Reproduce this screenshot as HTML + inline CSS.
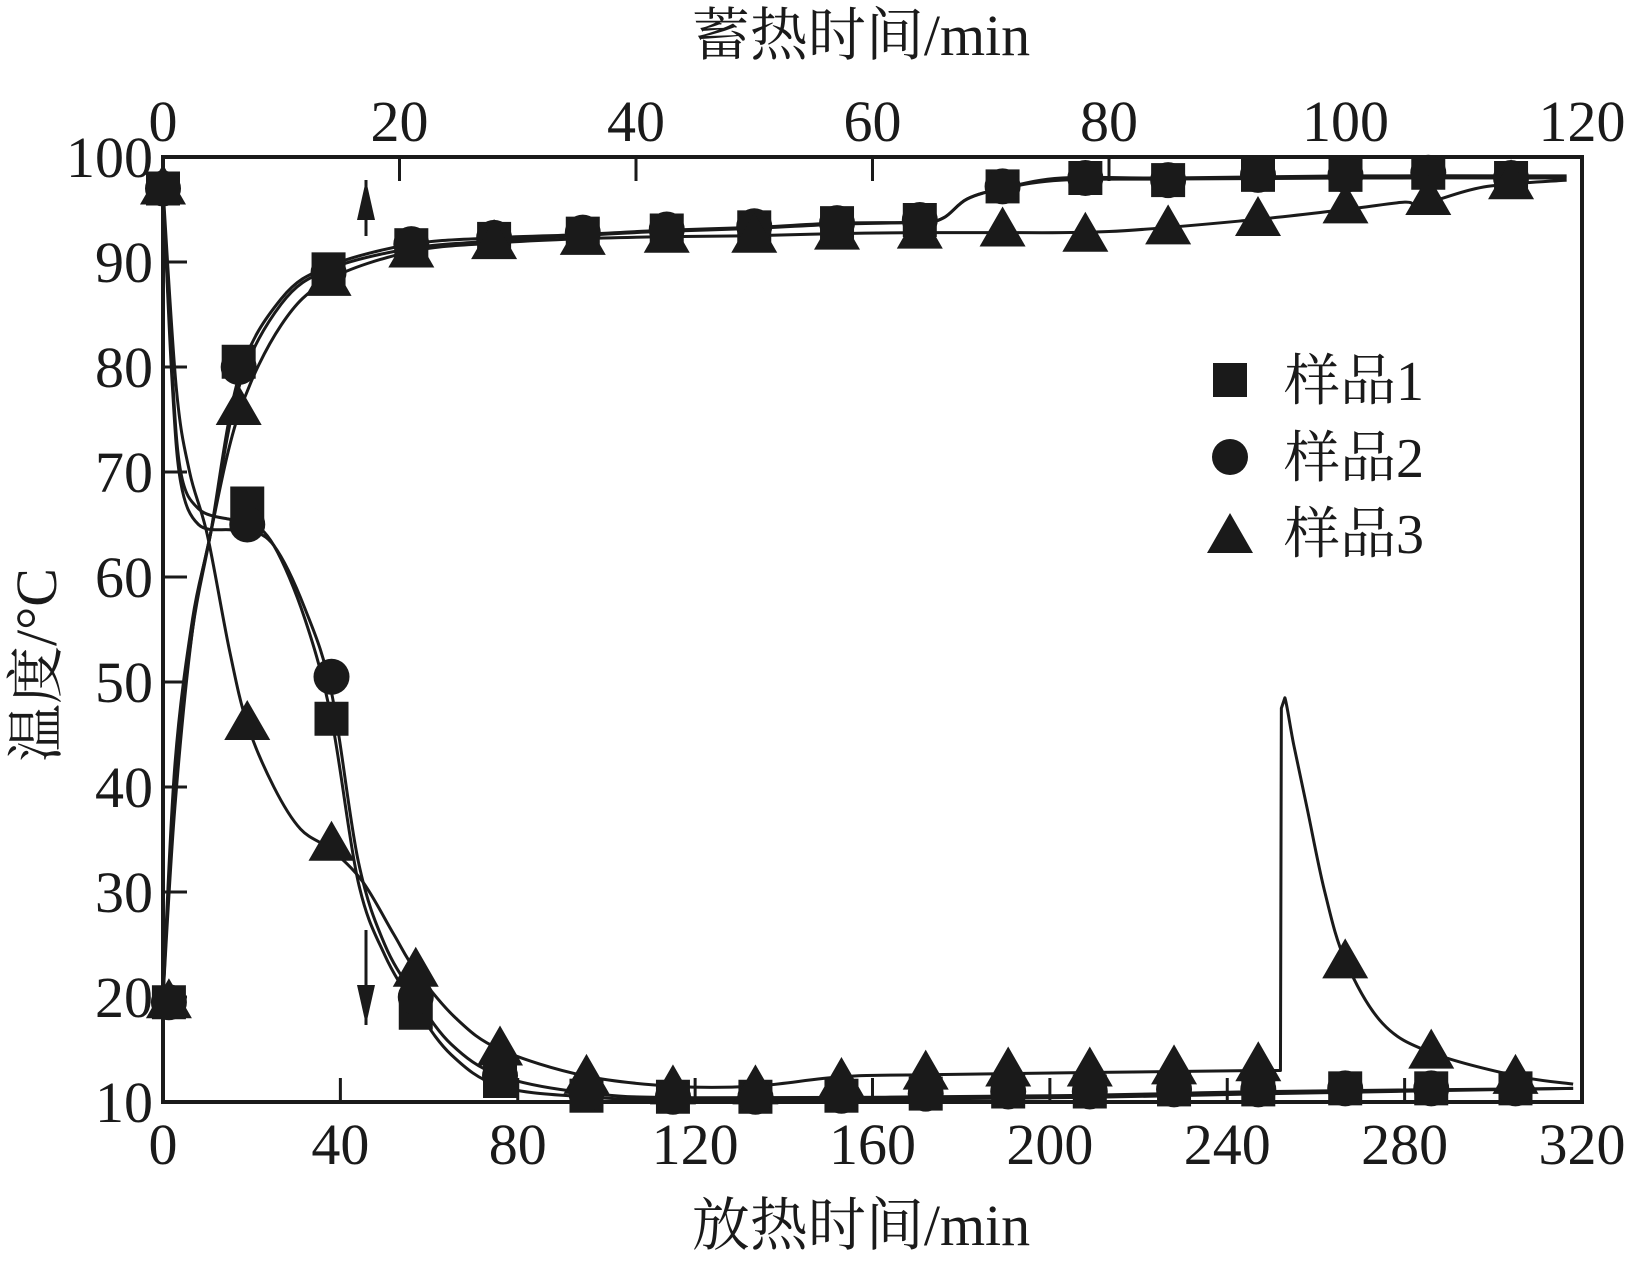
<!DOCTYPE html>
<html><head><meta charset="utf-8"><style>
body{margin:0;background:#fff}
svg text{font-family:"Liberation Serif","Noto Serif CJK SC",serif;fill:#1a1a1a}
</style></head><body>
<svg id="chart" width="1628" height="1261" viewBox="0 0 1628 1261" xmlns="http://www.w3.org/2000/svg"></svg>
<script>
// ---- data ----
const yTicks=[10,20,30,40,50,60,70,80,90,100];
const xBottomTicks=[0,40,80,120,160,200,240,280,320];
const xTopTicks=[0,20,40,60,80,100,120];
// charging (top axis, min)
const chargeT=[0.5,6.4,14,21,28,35.5,42.6,50,57,64,71,78,85,92.6,100,107,114];
const charge1=[19.5,80.5,89.3,91.6,92.2,92.7,93,93.3,93.7,94,97.2,98,97.8,98.3,98.3,98.5,98];
const charge2=[19.5,80,89,91.7,92.3,92.8,93.1,93.4,93.7,94,97.2,98,97.8,98.3,98.3,98.5,98];
const charge3=[19.5,76,88.3,91,91.8,92.2,92.4,92.4,92.7,92.8,93,92.5,93.2,94,95.2,96,97.5];
// discharging (bottom axis, min)
const dischT=[0,19,38,57,76,95.5,115,133.6,153,172,190.6,209,228,247,266.6,286,305];
const disch1=[97,67,46.5,18.5,12,10.6,10.5,10.5,10.6,10.8,11,11,11.2,11.2,11.3,11.3,11.3];
const disch2=[97,65,50.5,20,12.5,10.8,10.5,10.5,10.6,10.8,11,11,11.2,11.2,11.3,11.3,11.3];
const disch3=[97,46,34.5,22.5,15,12.3,11.3,11.3,12,12.7,13,13,13.2,13.5,23.3,14.7,12.3];
// fitted curves
const cCurve1T=[0,1,2.5,4,6.4,10,14,21,28,35,42,50,57,64,66,68,71,76,85,100,118.7];
const cCurve1V=[20,40,55,64,79,86.5,89.6,91.7,92.3,92.6,93,93.3,93.7,93.8,94.2,96,97,98,98,98.2,98.2];
const cCurve2T=[0,1,2.5,4,6.4,10,14,21,28,35,42,50,57,64,66,68,71,76,85,100,118.7];
const cCurve2V=[20,42,56,64,78,86,89.3,91.3,92,92.5,92.9,93.2,93.6,93.8,94.2,96,97,97.8,97.9,98,98];
const cCurve3T=[0,1,2.5,4,6.4,10,14,21,28,35,42,50,57,64,70,80,92,100,105,106,108,112,118.7];
const cCurve3V=[20,38,55,64,75.5,84,88.3,91,91.8,92.2,92.4,92.5,92.7,92.8,92.8,92.9,94,95,95.7,95.3,96,97.2,97.8];
const dCurve1T=[0,2,4,8,15,19,25,32,38,44,50,57,65,76,95,120,200,250,318];
const dCurve1V=[97,80,70,66.5,65.5,65.5,63,56,46.5,31,24,19,14.5,11.5,10.5,10.2,10.4,10.8,11.3];
const dCurve2T=[0,2,4,8,15,19,25,32,38,44,50,57,65,76,95,120,200,250,318];
const dCurve2V=[97,79,69,65,64.5,64.5,63,57,49,33,25,20,15.5,12.5,10.9,10.4,10.6,11,11.3];
const dCurve3T=[0,3,6,10,15,19,25,31,38,45,52,57,66,76,95,115,133,153,172,247,252,252.2,253,255,258,262,266.6,275,286,305,318];
const dCurve3V=[97,78,70,64,53,46,40,36,34,31,26,22.5,18,15,12.5,11.5,11.5,12.4,12.6,13,13,47.5,48.5,44,38,30,23.5,17.5,14.7,12.5,11.7];
// ---- axes ----
const L=163,R=1582,T=157,B=1102;
const xb=t=>L+(R-L)*t/320, xt=t=>L+(R-L)*t/120, y=v=>B-(B-T)*(v-10)/90;
const NS="http://www.w3.org/2000/svg", svg=document.getElementById('chart');
function mk(tag,attrs,parent){const e=document.createElementNS(NS,tag);for(const k in attrs)e.setAttribute(k,attrs[k]);(parent||svg).appendChild(e);return e;}
const frame=mk('rect',{x:L,y:T,width:R-L,height:B-T,fill:'none',stroke:'#1a1a1a','stroke-width':4});


yTicks.forEach(v=>{
  const tk=mk('line',{x1:L,x2:L+24,y1:y(v),y2:y(v),stroke:'#1a1a1a','stroke-width':3});
  
  
  const tx=mk('text',{x:L-10,y:y(v)+20,'font-size':58,'text-anchor':'end'});tx.textContent=v;
  
  
});
xBottomTicks.forEach(v=>{
  const tk=mk('line',{x1:xb(v),x2:xb(v),y1:B,y2:B-24,stroke:'#1a1a1a','stroke-width':3});
  
  
  const tx=mk('text',{x:xb(v),y:B+62,'font-size':58,'text-anchor':'middle'});tx.textContent=v;
  
  
});
xTopTicks.forEach(v=>{
  const tk=mk('line',{x1:xt(v),x2:xt(v),y1:T,y2:T+24,stroke:'#1a1a1a','stroke-width':3});
  
  
  const tx=mk('text',{x:xt(v),y:T-16,'font-size':58,'text-anchor':'middle'});tx.textContent=v;
  
  
});
// ---- curves ----
function curve(ts,vs,xf,name){
  const p=ts.map((t,i)=>[xf(t),y(vs[i])]);
  const vert=i=>i>=0&&i<p.length-1&&Math.abs(p[i+1][0]-p[i][0])<3;
  let d='M'+p[0][0]+','+p[0][1];
  for(let i=0;i<p.length-1;i++){
    const p0=p[i-1]||p[i],p1=p[i],p2=p[i+1],p3=p[i+2]||p2;
    if(vert(i)||vert(i-1)||vert(i+1)){d+=' L'+p2[0]+','+p2[1];continue;}
    const c1=[p1[0]+(p2[0]-p0[0])/6,p1[1]+(p2[1]-p0[1])/6];
    const c2=[p2[0]-(p3[0]-p1[0])/6,p2[1]-(p3[1]-p1[1])/6];
    d+=` C${c1[0]},${c1[1]} ${c2[0]},${c2[1]} ${p2[0]},${p2[1]}`;
  }
  const e=mk('path',{d:d,fill:'none',stroke:'#1a1a1a','stroke-width':3,'stroke-linejoin':'round'});
  
  
}
curve(cCurve1T,cCurve1V,xt,'charge-curve-1');
curve(cCurve2T,cCurve2V,xt,'charge-curve-2');
curve(cCurve3T,cCurve3V,xt,'charge-curve-3');
curve(dCurve1T,dCurve1V,xb,'discharge-curve-1');
curve(dCurve2T,dCurve2V,xb,'discharge-curve-2');
curve(dCurve3T,dCurve3V,xb,'discharge-curve-3');
// ---- markers ----
function sq(cx,cy,name){const e=mk('rect',{x:cx-17,y:cy-17,width:34,height:34,fill:'#1a1a1a'});}
function ci(cx,cy,name){const e=mk('circle',{cx:cx,cy:cy,r:18,fill:'#1a1a1a'});}
function tr(cx,cy,name){const e=mk('polygon',{points:`${cx},${cy-24} ${cx-23},${cy+16} ${cx+23},${cy+16}`,fill:'#1a1a1a'});}
chargeT.forEach((t,i)=>{sq(xt(t),y(charge1[i]),'charge-point-1');});
chargeT.forEach((t,i)=>{ci(xt(t),y(charge2[i]),'charge-point-2');});
chargeT.forEach((t,i)=>{tr(xt(t),y(charge3[i]),'charge-point-3');});
dischT.forEach((t,i)=>{sq(xb(t),y(disch1[i]),'discharge-point-1');});
dischT.forEach((t,i)=>{ci(xb(t),y(disch2[i]),'discharge-point-2');});
dischT.forEach((t,i)=>{tr(xb(t),y(disch3[i]),'discharge-point-3');});
// ---- arrows ----
function arrow(x1,y1,y2,name){
  const g=mk('g',{});
  
  
  mk('line',{x1:x1,x2:x1,y1:y1,y2:y2,stroke:'#1a1a1a','stroke-width':3},g);
  const dir=y2<y1?-1:1;
  mk('polygon',{points:`${x1},${y2} ${x1-9},${y2-dir*40} ${x1+9},${y2-dir*40}`,fill:'#1a1a1a'},g);
}
arrow(366,236,180,'charge-arrow-up');
arrow(366,930,1025,'discharge-arrow-down');
// ---- legend ----
const legNames=['样品1','样品2','样品3'];
const legY=[380,457,533];
legNames.forEach((n,i)=>{
  if(i===0)sq(1230,legY[i],'legend-marker-1');
  if(i===1)ci(1230,legY[i],'legend-marker-2');
  if(i===2)tr(1230,legY[i]+4,'legend-marker-3');
  const t=mk('text',{x:1284,y:legY[i]+20,'font-size':56});t.textContent=n;
  
  
});
// ---- titles ----
let tt=mk('text',{x:861,y:55,'font-size':58,'text-anchor':'middle'});tt.textContent='蓄热时间/min';


tt=mk('text',{x:861,y:1245,'font-size':58,'text-anchor':'middle'});tt.textContent='放热时间/min';


tt=mk('text',{x:0,y:0,'font-size':58,'text-anchor':'middle',transform:'translate(56,665) rotate(-90)'});tt.textContent='温度/°C';


</script>
</body></html>
